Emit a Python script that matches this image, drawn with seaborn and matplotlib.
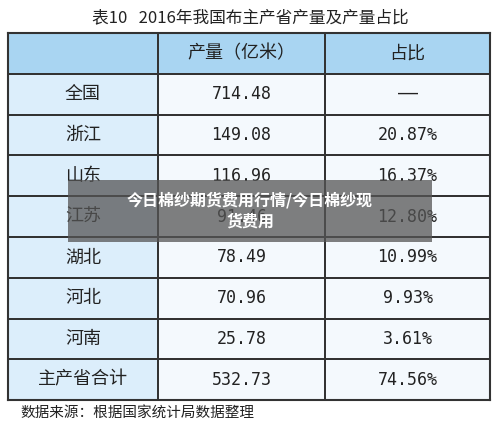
import seaborn as sns
import matplotlib.pyplot as plt
import numpy as np
from matplotlib.colors import ListedColormap
from matplotlib.patches import Rectangle

sns.set_style('white')
plt.rcParams['font.family'] = ['Noto Sans CJK SC', 'DejaVu Sans']

title = '表10   2016年我国布主产省产量及产量占比'
headers = ['', '产量（亿米）', '占比']
regions = ['全国', '浙江', '山东', '江苏', '湖北', '河北', '河南', '主产省合计']
output = ['714.48', '149.08', '116.96', '91.46', '78.49', '70.96', '25.78', '532.73']
share = ['——', '20.87%', '16.37%', '12.80%', '10.99%', '9.93%', '3.61%', '74.56%']
source = '数据来源：根据国家统计局数据整理'
overlay = '今日棉纱期货费用行情/今日棉纱现货费用'

n = len(regions) + 1
# 0 header, 1 first column, 2 data cell
kind = np.full((n, 3), 2)
kind[0, :] = 0
kind[1:, 0] = 1
cmap = ListedColormap(['#a9d5f2', '#dceefb', '#f4f9fd'])

fig = plt.figure(figsize=(5, 4.23), dpi=100)
fig.patch.set_facecolor('white')
ax = fig.add_axes([0.016, 0.054, 0.964, 0.868])
widths = [150, 167, 165]
xedges = np.concatenate([[0], np.cumsum(widths)])
ax.pcolormesh(xedges, np.arange(n + 1), kind, cmap=cmap, vmin=-0.5, vmax=2.5,
              edgecolor='#333333', linewidth=1.2)
ax.set_xlim(0, xedges[-1])
ax.set_ylim(n, 0)
ax.set_xticks([])
ax.set_yticks([])
for s in ax.spines.values():
    s.set_linewidth(1.5)
    s.set_color('#333333')

xc = (xedges[:-1] + xedges[1:]) / 2
for j, h in enumerate(headers):
    ax.text(xc[j], 0.5, h, ha='center', va='center', fontsize=13, color='#222222')
for i in range(len(regions)):
    y = i + 1.5
    ax.text(xc[0], y, regions[i], ha='center', va='center', fontsize=13, color='#222222')
    ax.text(xc[1], y, output[i], ha='center', va='center', fontsize=12,
            color='#222222', family=['DejaVu Sans Mono', 'DejaVu Sans'])
    ax.text(xc[2], y, share[i], ha='center', va='center', fontsize=12,
            color='#222222', family=['DejaVu Sans Mono', 'Noto Sans CJK SC'])

fig.text(0.5, 0.955, title, ha='center', va='center', fontsize=12, color='#222222')
fig.text(0.04, 0.022, source, ha='left', va='center', fontsize=10.5, color='#222222')

fig.patches.append(Rectangle((0.136, 0.428), 0.728, 0.147, transform=fig.transFigure,
                             facecolor='#555555', alpha=0.75, edgecolor='none'))
fig.text(0.5, 0.502, overlay.replace('/今日棉纱现', '/今日棉纱现\n'), ha='center', va='center',
         fontsize=11.5, color='white', fontweight='bold', linespacing=1.4)

fig.savefig('out.png', dpi=100)
